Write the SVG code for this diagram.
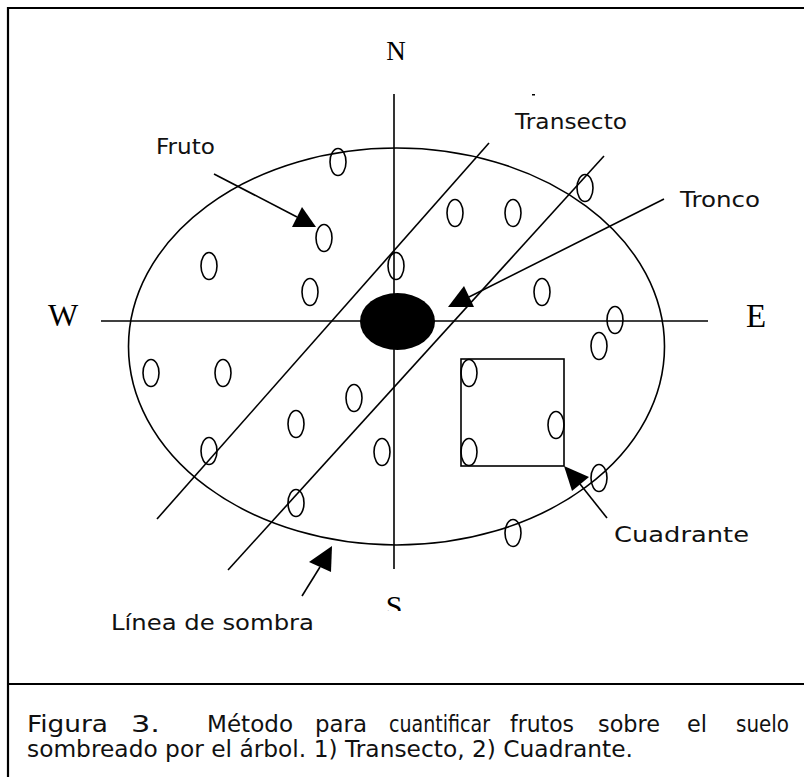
<svg xmlns="http://www.w3.org/2000/svg" width="804" height="777" viewBox="0 0 804 777">
  <defs>
    <style>
      .ln { stroke: #000; stroke-width: 1.6; fill: none; }
      .fr { stroke: #000; stroke-width: 1.6; fill: none; }
      .lbl { font-family: "DejaVu Sans", "Liberation Sans", sans-serif; font-size: 22px; fill: #111; }
      .cap { font-family: "DejaVu Sans", "Liberation Sans", sans-serif; font-size: 22.5px; fill: #111; }
      .dir { font-family: "Liberation Serif", "Times New Roman", serif; fill: #000; }
      .head { fill: #000; stroke: none; }
    </style>
    <clipPath id="clipS">
      <rect x="370" y="570" width="50" height="41"/>
    </clipPath>
  </defs>
  <rect width="804" height="777" fill="#fff"/>

  <g id="frame">
    <path d="M8 777 V8 H806" stroke="#000" stroke-width="2.2" fill="none"/>
    <line x1="8" y1="684" x2="806" y2="684" stroke="#000" stroke-width="2.2"/>
  </g>

  <g id="shadow-ellipse">
    <ellipse class="ln" cx="396.5" cy="346.5" rx="268" ry="198.5"/>
  </g>

  <g id="axes">
    <line class="ln" x1="394" y1="94" x2="394" y2="569"/>
    <line class="ln" x1="101" y1="321" x2="708" y2="321"/>
  </g>

  <g id="trunk">
    <ellipse cx="397.5" cy="321.5" rx="37.5" ry="28.5" fill="#000"/>
  </g>

  <g id="transects">
    <line class="ln" x1="489" y1="143" x2="157" y2="519"/>
    <line class="ln" x1="604" y1="156" x2="228" y2="570"/>
  </g>

  <g id="quadrat">
    <rect class="ln" x="461" y="359" width="103" height="107"/>
  </g>

  <g id="fruits">
    <ellipse class="fr" cx="338" cy="162" rx="8" ry="13.5"/>
    <ellipse class="fr" cx="585" cy="188" rx="8" ry="13.5"/>
    <ellipse class="fr" cx="455" cy="213" rx="8" ry="13.5"/>
    <ellipse class="fr" cx="513" cy="213" rx="8" ry="13.5"/>
    <ellipse class="fr" cx="324" cy="238" rx="8" ry="13.5"/>
    <ellipse class="fr" cx="209" cy="266" rx="8" ry="13.5"/>
    <ellipse class="fr" cx="396" cy="266" rx="8" ry="13.5"/>
    <ellipse class="fr" cx="310" cy="292" rx="8" ry="13.5"/>
    <ellipse class="fr" cx="542" cy="292" rx="8" ry="13.5"/>
    <ellipse class="fr" cx="615" cy="320" rx="8" ry="13.5"/>
    <ellipse class="fr" cx="599" cy="346" rx="8" ry="13.5"/>
    <ellipse class="fr" cx="151" cy="373" rx="8" ry="13.5"/>
    <ellipse class="fr" cx="223" cy="373" rx="8" ry="13.5"/>
    <ellipse class="fr" cx="469" cy="373" rx="8" ry="13.5"/>
    <ellipse class="fr" cx="354" cy="398" rx="8" ry="13.5"/>
    <ellipse class="fr" cx="296" cy="424" rx="8" ry="13.5"/>
    <ellipse class="fr" cx="556" cy="425" rx="8" ry="13.5"/>
    <ellipse class="fr" cx="209" cy="451" rx="8" ry="13.5"/>
    <ellipse class="fr" cx="382" cy="452" rx="8" ry="13.5"/>
    <ellipse class="fr" cx="469" cy="452" rx="8" ry="13.5"/>
    <ellipse class="fr" cx="599" cy="478" rx="8" ry="13.5"/>
    <ellipse class="fr" cx="296" cy="503" rx="8" ry="13.5"/>
    <ellipse class="fr" cx="513" cy="533" rx="8" ry="13.5"/>
  </g>

  <g id="connectors">
    <line class="ln" x1="214" y1="174" x2="297" y2="217"/>
    <polygon class="head" points="316,227 292,227 302,207"/>
    <line class="ln" x1="664" y1="199" x2="469" y2="297"/>
    <polygon class="head" points="448,307 464,286 474,307"/>
    <line class="ln" x1="607" y1="518" x2="580" y2="484"/>
    <polygon class="head" points="564,466 589,477 572,491"/>
    <line class="ln" x1="302" y1="596" x2="320" y2="567"/>
    <polygon class="head" points="332,546 309,562 331,572"/>
  </g>

  <g id="labels">
    <text class="dir" x="396" y="60" font-size="27" text-anchor="middle">N</text>
    <text class="dir" x="48" y="326" font-size="32">W</text>
    <text class="dir" x="746" y="327" font-size="33">E</text>
    <text class="dir" x="394" y="616" font-size="30" text-anchor="middle" clip-path="url(#clipS)">S</text>
    <rect x="532" y="94" width="3" height="1.5" fill="#000"/>
    <text class="lbl" x="156" y="154" textLength="59" lengthAdjust="spacingAndGlyphs">Fruto</text>
    <text class="lbl" x="515" y="129" textLength="112" lengthAdjust="spacingAndGlyphs">Transecto</text>
    <text class="lbl" x="680" y="207" textLength="80" lengthAdjust="spacingAndGlyphs">Tronco</text>
    <text class="lbl" x="614" y="542" textLength="135" lengthAdjust="spacingAndGlyphs">Cuadrante</text>
    <text class="lbl" x="111" y="630" textLength="203" lengthAdjust="spacingAndGlyphs">Línea de sombra</text>
  </g>

  <g id="caption">
    <text class="cap" x="27" y="732" textLength="81" lengthAdjust="spacingAndGlyphs">Figura</text>
    <text class="cap" x="131" y="732" textLength="29" lengthAdjust="spacingAndGlyphs">3.</text>
    <text class="cap" x="207" y="732" textLength="86" lengthAdjust="spacingAndGlyphs">Método</text>
    <text class="cap" x="315" y="732" textLength="52" lengthAdjust="spacingAndGlyphs">para</text>
    <text class="cap" x="389" y="732" textLength="101" lengthAdjust="spacingAndGlyphs">cuantificar</text>
    <text class="cap" x="510" y="732" textLength="64" lengthAdjust="spacingAndGlyphs">frutos</text>
    <text class="cap" x="598" y="732" textLength="62" lengthAdjust="spacingAndGlyphs">sobre</text>
    <text class="cap" x="687" y="732" textLength="20" lengthAdjust="spacingAndGlyphs">el</text>
    <text class="cap" x="736" y="732" textLength="53" lengthAdjust="spacingAndGlyphs">suelo</text>
    <text class="cap" x="27" y="757" textLength="606" lengthAdjust="spacingAndGlyphs">sombreado por el árbol. 1) Transecto, 2) Cuadrante.</text>
  </g>
</svg>
